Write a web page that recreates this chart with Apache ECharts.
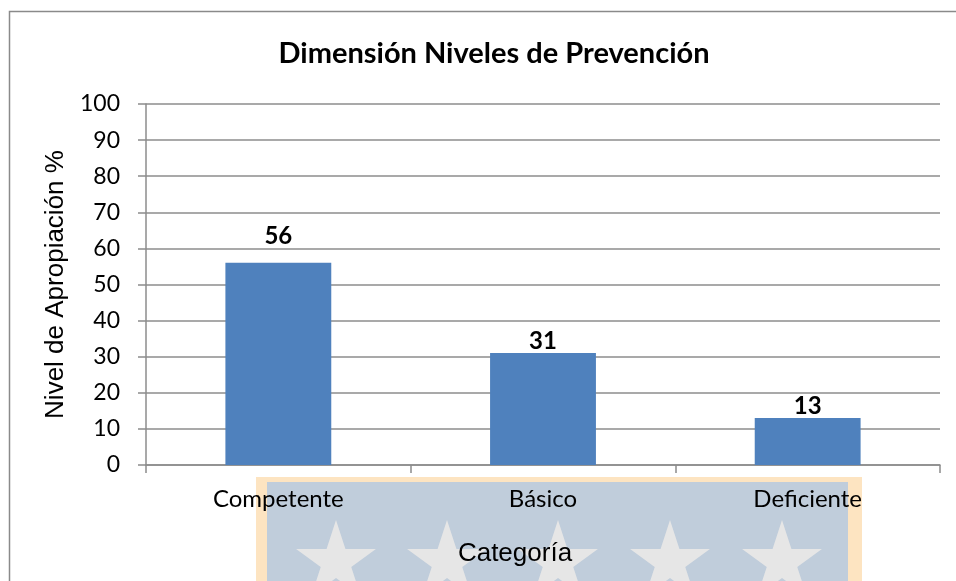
<!DOCTYPE html>
<html>
<head>
<meta charset="utf-8">
<script src="https://cdn.jsdelivr.net/npm/echarts@6/dist/echarts.min.js"></script>
<style>
  html, body { margin: 0; padding: 0; background: #fff; }
  #main { width: 956px; height: 581px; }
</style>
</head>
<body>
<div id="main"></div>
<script>
// datos del gráfico
var categorias = ['Competente', 'Básico', 'Deficiente'];
var valores = [56, 31, 13];
var yTicks = [0, 10, 20, 30, 40, 50, 60, 70, 80, 90, 100];

var chart = echarts.init(document.getElementById('main'));

// estrella de 5 puntas (marca de agua de fondo)
var star = function (cx, cy, r) {
    var pts = [], ri = r * 0.382;
    for (var i = 0; i < 10; i++) {
        var a = -Math.PI / 2 + i * Math.PI / 5, rr = i % 2 ? ri : r;
        pts.push([cx + rr * Math.cos(a), cy + rr * Math.sin(a)]);
    }
    return {
        type: 'polygon', z: -8, silent: true,
        shape: { points: pts },
        style: { fill: '#e6e6e6' }
    };
};

var graphics = [
    {
        type: 'rect', z: -10, silent: true,
        shape: { x: 9.5, y: 11.5, width: 2000, height: 2000 },
        style: { fill: 'none', stroke: '#8a8a8a', lineWidth: 1.5 }
    },
    {
        type: 'rect', z: -9, silent: true,
        shape: { x: 256, y: 477, width: 606, height: 200 },
        style: { fill: '#fde4c1' }
    },
    {
        type: 'rect', z: -9, silent: true,
        shape: { x: 267, y: 482, width: 581, height: 200 },
        style: { fill: '#c0cddb' }
    }
];
[336, 447, 558, 670, 782].forEach(function (cx) {
    graphics.push(star(cx, 562, 42));
});

var option = {
    backgroundColor: '#fff',
    animation: false,
    title: {
        text: 'Dimensión Niveles de Prevención',
        left: 489,
        top: 34,
        textAlign: 'center',
        textStyle: { fontFamily: 'Lato', fontWeight: 'bold', fontSize: 29, color: '#000' }
    },
    graphic: graphics,
    grid: { left: 146, right: 16, top: 104, bottom: 116 },
    xAxis: {
        type: 'category',
        data: categorias,
        name: 'Categoría',
        nameLocation: 'middle',
        nameGap: 76,
        nameTextStyle: { fontFamily: 'Liberation Sans', fontSize: 26, color: '#000', padding: [0, 56, 0, 0] },
        axisLine: { lineStyle: { color: '#8c8c8c', width: 1.5 } },
        axisTick: { show: true, length: 8, lineStyle: { color: '#8c8c8c', width: 1.5 } },
        axisLabel: { fontFamily: 'Lato', fontSize: 24, color: '#000', margin: 22 }
    },
    yAxis: {
        type: 'value',
        min: yTicks[0],
        max: yTicks[yTicks.length - 1],
        interval: 10,
        name: 'Nivel de Apropiación %',
        nameLocation: 'middle',
        nameGap: 74,
        nameTextStyle: { fontFamily: 'Liberation Sans', fontSize: 26, color: '#000' },
        axisLine: { show: true, lineStyle: { color: '#8c8c8c', width: 1.5 } },
        axisTick: { show: true, length: 8, lineStyle: { color: '#8c8c8c', width: 1.5 } },
        axisLabel: { fontFamily: 'Lato', fontSize: 23, color: '#000', margin: 26 },
        splitLine: { lineStyle: { color: '#8c8c8c', width: 1.5 } }
    },
    series: [{
        type: 'bar',
        barWidth: '40%',
        data: valores.map(function (v, i) {
            return i === 0 ? { value: v, label: { distance: 15 } } : v;
        }),
        itemStyle: { color: '#4f81bd' },
        label: {
            show: true,
            position: 'top',
            distance: 0,
            fontFamily: 'Lato',
            fontWeight: 'bold',
            fontSize: 24,
            color: '#000'
        }
    }]
};

chart.setOption(option);
</script>
</body>
</html>
